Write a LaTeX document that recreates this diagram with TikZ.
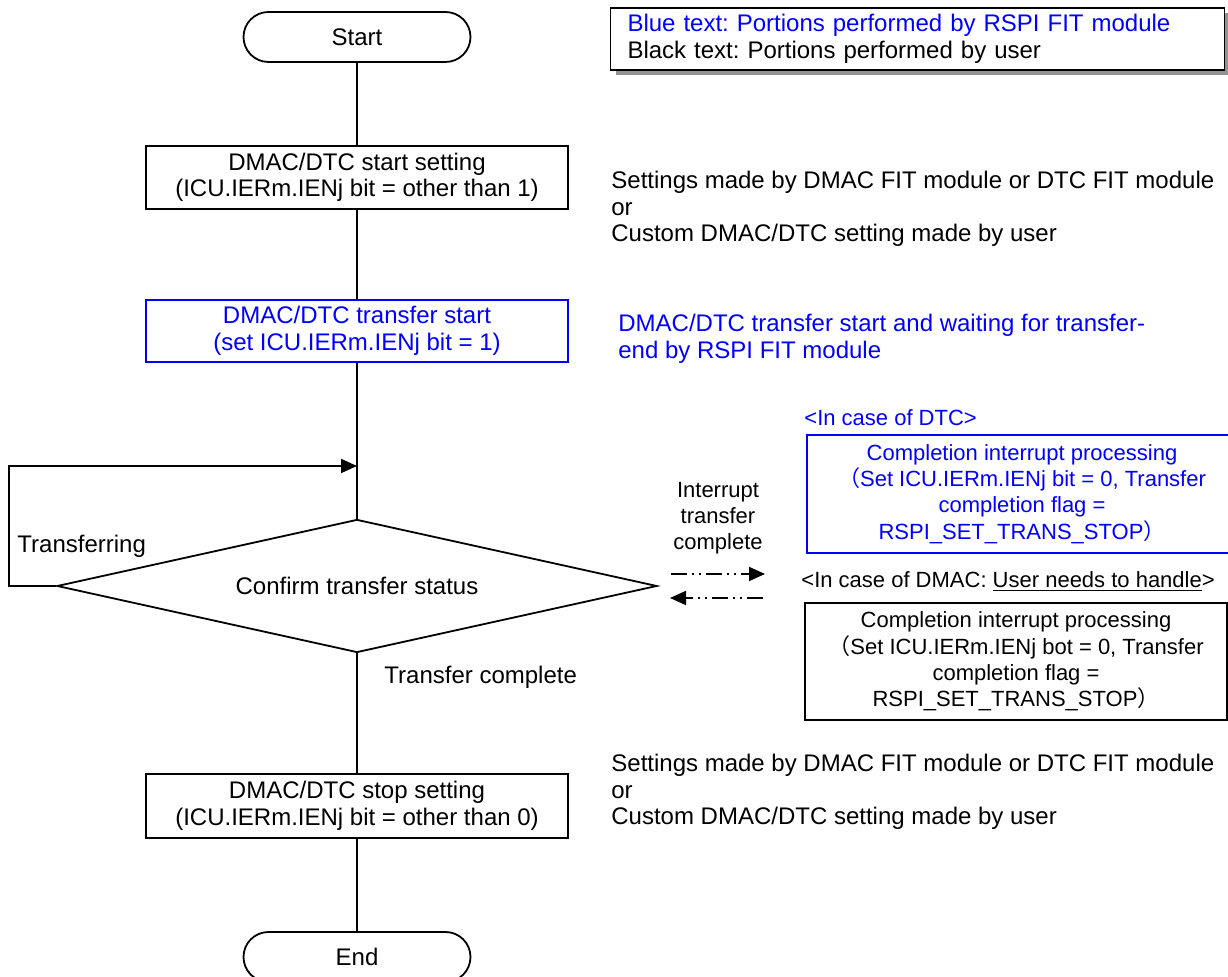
\documentclass[tikz,border=0pt]{standalone}
\usepackage{fontspec}
\setmainfont{Liberation Sans}
\newfontfamily\cjk{Noto Sans CJK JP}
\usetikzlibrary{arrows.meta,shapes.geometric,shadows}

\definecolor{rspiblue}{RGB}{0,0,255}
\newcommand\mainsize{\fontsize{12}{13.3}\selectfont}
\newcommand\smallsize{\fontsize{11}{13.1}\selectfont}
\frenchspacing

\tikzset{
  term/.style={draw,line width=0.9pt,rounded corners=12.5pt,minimum width=113.5pt,minimum height=25pt,inner sep=0pt,font=\mainsize},
  proc/.style={draw,line width=0.9pt,minimum width=211pt,minimum height=31.5pt,inner sep=0pt,align=center,font=\mainsize},
  irqbox/.style={draw,line width=0.9pt,minimum width=211pt,minimum height=58.5pt,inner sep=0pt,align=center,font=\smallsize},
  note/.style={anchor=west,inner sep=0pt,align=left,font=\mainsize},
  flow/.style={line width=0.9pt},
  irq/.style={line width=0.9pt,->,dash pattern=on 8pt off 2.5pt on 1pt off 2.5pt on 1pt off 2.5pt}
}

\begin{document}
\begin{tikzpicture}[line cap=butt,line join=miter,>={Triangle[length=8pt,width=7pt]},x=0.5pt,y=-0.5pt]
      \useasboundingbox (0,0) rectangle (1228,977);

      % main flow
      \node[term] (start) at (357,37) {Start};
      \node[proc] (dset) at (357,177.5) {DMAC/DTC start setting\\(ICU.IERm.IENj bit = other than 1)};
      \node[proc,draw=rspiblue,text=rspiblue,minimum height=31pt] (tstart) at (357,331) {DMAC/DTC transfer start\\(set ICU.IERm.IENj bit = 1)};
      \node[draw,diamond,aspect=4.5,line width=0.9pt,minimum width=300pt,minimum height=66.5pt,inner sep=0pt,font=\mainsize] (conf) at (357,586) {Confirm transfer status};
      \node[proc,minimum height=32pt] (dstop) at (357,806) {DMAC/DTC stop setting\\(ICU.IERm.IENj bit = other than 0)};
      \node[term] (finish) at (357,957) {End};

      \draw[flow] (start) -- (dset);
      \draw[flow] (dset) -- (tstart);
      \draw[flow] (tstart) -- (conf);
      \draw[flow] (conf) -- (dstop);
      \draw[flow] (dstop) -- (finish);

      % loop back while transferring
      \coordinate (loopin) at (357,466);
      \draw[flow,->] (conf.west) -- ++(-47,0) |- (loopin);
      \node[note] (busylbl) at (17,546) {Transferring};
      \node[note] (donelbl) at (384,677) {Transfer complete};

      % legend
      \node[draw,line width=0.9pt,fill=white,drop shadow={shadow xshift=2.5pt,shadow yshift=-2.5pt,fill=gray!85,opacity=1},
            text width=290pt,inner xsep=8.5pt,inner ysep=0pt,minimum height=31pt,align=left,font=\mainsize] (legend) at (917.5,39)
            {\textcolor{rspiblue}{Blue text: Portions performed by RSPI FIT module}\\Black text: Portions performed by user};

      % notes on the right
      \node[note] (setnote) at (611,209) {Settings made by DMAC FIT module or DTC FIT module\\or\\Custom DMAC/DTC setting made by user};
      \node[note,text=rspiblue] (startnote) at (618,339) {DMAC/DTC transfer start and waiting for transfer-\\end by RSPI FIT module};
      \node[note] (stopnote) at (611,792) {Settings made by DMAC FIT module or DTC FIT module\\or\\Custom DMAC/DTC setting made by user};

      % interrupt side
      \node[align=center,inner sep=0pt,font=\smallsize] (irqlbl) at (718,518) {Interrupt\\transfer\\complete};
      \coordinate (irqa) at (671,574);
      \coordinate (irqb) at (765,574);
      \coordinate (irqc) at (763,598);
      \coordinate (irqd) at (670,598);
      \draw[irq] (irqa) -- (irqb);
      \draw[irq] (irqc) -- (irqd);

      \node[note,font=\smallsize,text=rspiblue] (dtclbl) at (804,418) {<In case of DTC>};
      \node[irqbox,draw=rspiblue,text=rspiblue,minimum width=215pt,minimum height=59pt] (dtcbox) at (1022,494)
            {Completion interrupt processing\\{\cjk （}Set ICU.IERm.IENj bit = 0, Transfer\\completion flag =\\RSPI\_SET\_TRANS\_STOP{\cjk ）}};
      \node[note,font=\smallsize] (dmaclbl) at (801,582) {<In case of DMAC: \underline{User needs to handle}>};
      \node[irqbox] (dmacbox) at (1016,661.5)
            {Completion interrupt processing\\{\cjk （}Set ICU.IERm.IENj bot = 0, Transfer\\completion flag =\\RSPI\_SET\_TRANS\_STOP{\cjk ）}};
    \end{tikzpicture}
\end{document}
